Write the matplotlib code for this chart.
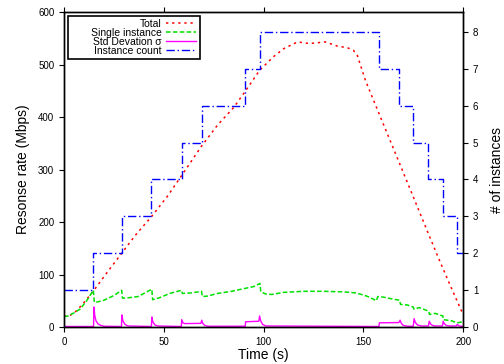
import matplotlib
matplotlib.use("Agg")
import matplotlib.pyplot as plt

plt.rcParams['font.family'] = ['Liberation Sans', 'DejaVu Sans']

# total response rate (Mbps)
total_t = [0, 3, 6, 9, 12, 15, 22, 29, 36, 44, 52, 59, 69, 77, 85, 91, 98, 105, 110,
           117, 123, 131, 137, 142, 145, 147, 151, 158, 167, 175, 182, 188, 194, 199, 200]
total = [20, 22, 30, 42, 56, 70, 106, 141, 176, 211, 250, 289, 345, 385, 418, 450, 489, 515, 530,
         543, 540, 543, 535, 532, 527, 517, 470, 405, 322, 248, 183, 128, 75, 32, 25]

# single instance rate (Mbps)
single_t = [0, 2, 5, 8, 11, 14.7, 15.2, 17, 20, 25, 28.9, 29.3, 33, 37, 44, 44.4, 48, 53, 58.9, 59.3,
            64, 68.9, 69.3, 72, 77, 84, 90, 95, 98.2, 98.6, 101, 104, 110, 120, 130, 140, 146, 150,
            153, 156.5, 157.2, 160, 165, 168.2, 168.6, 172, 175, 175.3, 178, 182.8, 183.1, 186,
            189.8, 190.1, 194, 197, 200]
single = [20, 21, 27, 34, 48, 70, 47, 48, 51, 60, 70, 55, 56, 58, 72, 52, 56, 64, 70, 64,
          65, 68, 58, 59, 64, 68, 73, 77, 83, 67, 63, 62, 66, 68, 68, 67, 65, 61,
          57, 50, 58, 57, 53, 51, 43, 42, 38, 34, 37, 30, 24, 26,
          21, 14, 12, 8, 10]

# std deviation (Mbps)
sigma_t = [0, 14.8, 15, 15.4, 16, 17, 18.5, 20, 28.8, 29, 29.5, 30.5, 32, 43.8, 44, 44.5, 45.5, 47,
           58.8, 59, 59.6, 60.5, 68.6, 69, 69.5, 70.5, 72, 90.8, 91, 97.6, 98, 98.5, 99.5, 101,
           157.8, 158, 167.8, 168.4, 169, 170, 172, 175, 175.4, 176, 177, 179, 182.6, 183, 183.6,
           184.6, 186, 189.6, 190, 190.6, 191.6, 193, 196.6, 197, 198, 200]
sigma = [1, 1, 38, 22, 12, 6, 3, 1.5, 1, 23, 12, 5, 2, 1, 19, 10, 4, 2,
         1, 14, 8, 6.5, 7, 13, 7, 3, 1.5, 1.5, 10, 11, 21, 12, 5, 2,
         1, 8, 8.5, 13, 7, 3, 1.5, 1.5, 16, 9, 4, 2, 2, 11, 6,
         3, 2, 2, 11, 6, 3, 2, 2, 5, 2, 1]

# instance count steps
count_t = [0, 14.7, 28.9, 43.6, 59, 69, 90.7, 98.2, 157.6, 167.8, 175, 182.6, 189.8, 197.1, 200]
count = [1, 2, 3, 4, 5, 6, 7, 8, 7, 6, 5, 4, 3, 2, 2]

fig = plt.figure(figsize=(5.04, 3.64), dpi=100)
ax = fig.add_axes([0.127, 0.1016, 0.792, 0.8654])
ax2 = ax.twinx()

l1, = ax.plot(total_t, total, color='#ff0000', lw=1.1, ls=(0, (1.5, 2.5)), label='Total')
# leading spaces widen the legend box on the left like the original
l2, = ax.plot(single_t, single, color='#00e000', lw=1.1, ls=(0, (3, 1.5)),
              label='       Single instance')
l3, = ax.plot(sigma_t, sigma, color='#ff00ff', lw=1.0, label='Std Devation σ')
l4, = ax2.plot(count_t, count, color='#0000ff', lw=1.0, ls=(0, (6, 2, 1, 2)),
               drawstyle='steps-post', label='Instance count')

ax.set_xlim(0, 200)
ax.set_ylim(0, 600)
ax2.set_ylim(0, 8.54)
ax.set_xticks([0, 50, 100, 150, 200])
ax.set_yticks([0, 100, 200, 300, 400, 500, 600])
ax2.set_yticks(range(0, 9))

ax.tick_params(axis='both', direction='out', labelsize=7, length=3.5, width=0.8, top=True)
ax2.tick_params(axis='y', direction='out', labelsize=7, length=3.5, width=0.8)
for a in (ax, ax2):
    for s in a.spines.values():
        s.set_linewidth(1.0)

ax.set_xlabel('Time (s)', fontsize=10, labelpad=1)
ax.set_ylabel('Resonse rate (Mbps)', fontsize=10, labelpad=6)
ax2.set_ylabel('# of instances', fontsize=10, labelpad=8)

leg = ax.legend(handles=[l1, l2, l3, l4], loc='upper left', markerfirst=False,
                fontsize=7.5, fancybox=False, edgecolor='black', framealpha=1,
                borderaxespad=0.35, handlelength=2.9, handletextpad=0.4,
                labelspacing=-0.1, borderpad=0.32)
leg.get_frame().set_linewidth(1.2)
leg.set_zorder(5)

fig.savefig('out.png', dpi=100)
